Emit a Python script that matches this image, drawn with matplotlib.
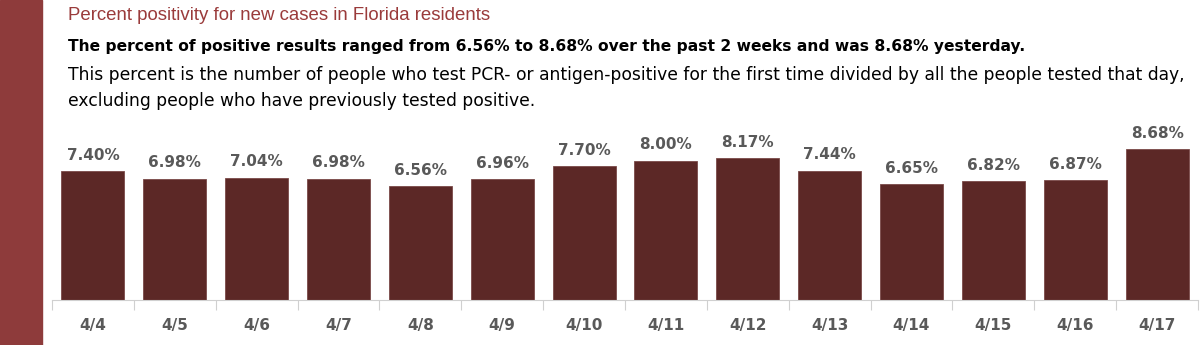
import matplotlib.pyplot as plt
import numpy as np
from matplotlib.patches import Rectangle

# === DATA ===
dates = ["4/4", "4/5", "4/6", "4/7", "4/8", "4/9", "4/10",
         "4/11", "4/12", "4/13", "4/14", "4/15", "4/16", "4/17"]
positivity = [7.40, 6.98, 7.04, 6.98, 6.56, 6.96, 7.70,
              8.00, 8.17, 7.44, 6.65, 6.82, 6.87, 8.68]

title = "Percent positivity for new cases in Florida residents"
subtitle = ("The percent of positive results ranged from 6.56% to 8.68% "
            "over the past 2 weeks and was 8.68% yesterday.")
note_lines = ["This percent is the number of people who test PCR- or antigen-positive "
              "for the first time divided by all the people tested that day,",
              "excluding people who have previously tested positive."]

BAR = "#5C2826"
BAND = "#8E3B3B"
GRAY = "#595959"

W, H = 1200, 345
fig = plt.figure(figsize=(W / 100, H / 100), dpi=100)

# left colour band
fig.patches.append(Rectangle((0, 0), 42 / W, 1, transform=fig.transFigure,
                             color=BAND, zorder=0))

fig.text(68 / W, 1 - 15 / H, title, color="#9A3B3B", fontsize=13.45,
         family="Liberation Sans", va="center")
fig.text(68 / W, 1 - 46 / H, subtitle, color="black", fontsize=11.2,
         family="DejaVu Sans", weight="bold", va="center")
for i, line in enumerate(note_lines):
    fig.text(68 / W, 1 - (75 + 26 * i) / H, line, color="black", fontsize=12.35,
             family="DejaVu Sans", va="center")

# axes: baseline at y=300, left at 52, right at 1198
ax = fig.add_axes([52 / W, 1 - 300 / H, 1146 / W, 190 / H])
x = np.arange(len(dates))
ax.bar(x, positivity, width=0.77, color=BAR, edgecolor="#7a4a48", linewidth=0.6)
ax.set_xlim(-0.5, len(dates) - 0.5)
ax.set_ylim(0, 190 / 17.4)

for xi, v in zip(x, positivity):
    ax.annotate(f"{v:.2f}%", (xi, v), xytext=(0, 6), textcoords="offset points",
                ha="center", va="bottom", color=GRAY, fontsize=11,
                weight="bold", family="DejaVu Sans")

for s in ["top", "right", "left"]:
    ax.spines[s].set_visible(False)
ax.spines["bottom"].set_color("#D0D0D0")
ax.set_yticks([])
ax.set_xticks(np.arange(-0.5, len(dates), 1.0))
ax.set_xticklabels([])
ax.set_xticks(x, minor=True)
ax.set_xticklabels(dates, minor=True)
ax.tick_params(axis="x", which="major", length=7, color="#D0D0D0", direction="out")
ax.tick_params(axis="x", which="minor", length=0, pad=13, labelsize=11,
               labelcolor=GRAY)
for lab in ax.get_xticklabels(minor=True):
    lab.set_fontweight("bold")

plt.savefig("out.png", dpi=100)
